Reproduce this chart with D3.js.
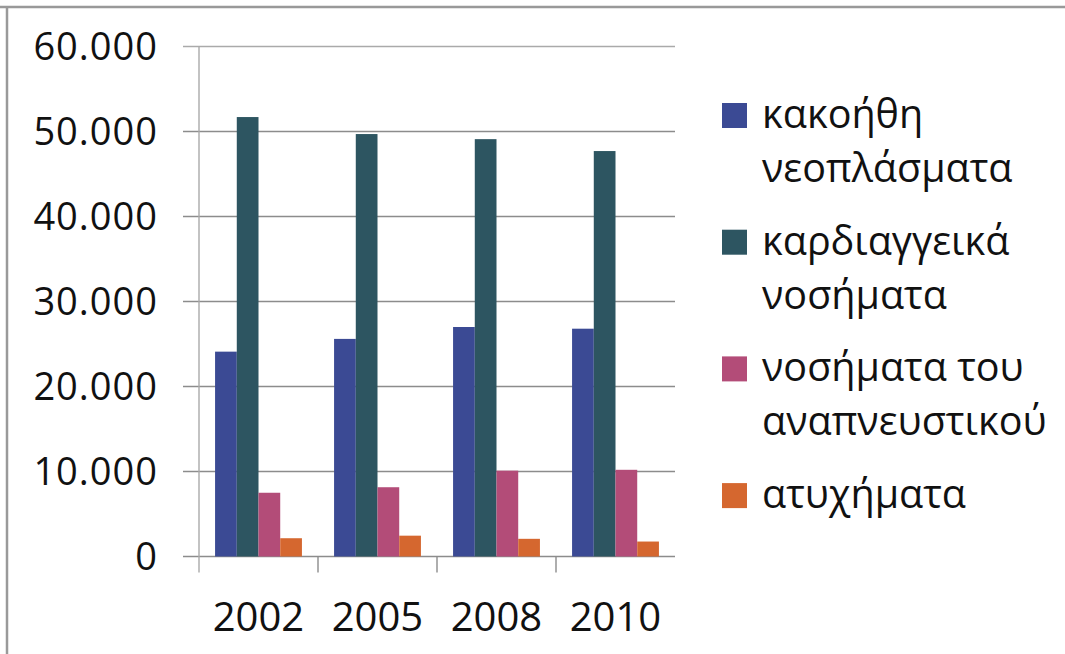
<!DOCTYPE html>
<html>
<head>
<meta charset="utf-8">
<script src="https://cdn.jsdelivr.net/npm/d3@7"></script>
<style>
    body { margin: 0; background: #fff; }
    svg { display: block; }
    .tickText { font-family: "Open Sans", sans-serif; fill: #111; }
    .legendText { font-family: "Open Sans", sans-serif; fill: #111; }
</style>
</head>
<body>
<div id="chart"></div>
<script>
// chart data
var years = ["2002", "2005", "2008", "2010"];
var seriesNames = ["κακοήθη νεοπλάσματα", "καρδιαγγεικά νοσήματα", "νοσήματα του αναπνευστικού", "ατυχήματα"];
var legendLines = [["κακοήθη", "νεοπλάσματα"], ["καρδιαγγεικά", "νοσήματα"], ["νοσήματα του", "αναπνευστικού"], ["ατυχήματα"]];
var neoplasms = [24100, 25600, 27000, 26800];
var cardio = [51700, 49700, 49100, 47700];
var respiratory = [7500, 8150, 10100, 10200];
var accidents = [2150, 2450, 2080, 1760];
var yTicks = [0, 10000, 20000, 30000, 40000, 50000, 60000];
var yTickLabels = ["0", "10.000", "20.000", "30.000", "40.000", "50.000", "60.000"];
var colors = ["#3b4a94", "#2d5561", "#b34c78", "#d5672f"];

var seriesValues = [neoplasms, cardio, respiratory, accidents];

var width = 1065, height = 654;

var svg = d3.select("#chart").append("svg")
    .attr("width", width)
    .attr("height", height);

// outer frame, only top and left edges are visible
svg.append("line")
    .attr("x1", 0).attr("x2", width)
    .attr("y1", 7).attr("y2", 7)
    .attr("stroke", "#999").attr("stroke-width", 2.5);
svg.append("line")
    .attr("x1", 7).attr("x2", 7)
    .attr("y1", 7).attr("y2", height)
    .attr("stroke", "#9a9a9a").attr("stroke-width", 2.5);

// scales
var x = d3.scaleBand()
    .domain(years)
    .range([199, 675])
    .paddingInner(0.27)
    .paddingOuter(0.135);

var xInner = d3.scaleBand()
    .domain(d3.range(seriesValues.length))
    .range([0, x.bandwidth()]);

var y = d3.scaleLinear()
    .domain([0, 60000])
    .range([556.5, 46.5]);

// horizontal grid lines, with a short tick left of the axis
svg.append("g").selectAll("line")
    .data(yTicks)
    .enter().append("line")
    .attr("x1", 183)
    .attr("x2", 675)
    .attr("y1", function(d) { return y(d); })
    .attr("y2", function(d) { return y(d); })
    .attr("stroke", function(d) { return d === 60000 ? "#aaa" : "#8c8c8c"; })
    .attr("stroke-width", 1.4);

// y tick labels
svg.append("g").selectAll("text")
    .data(yTicks)
    .enter().append("text")
    .attr("class", "tickText")
    .attr("x", 158)
    .attr("y", function(d) { return y(d) + 13; })
    .attr("text-anchor", "end")
    .style("font-size", "38px")
    .style("letter-spacing", "1px")
    .text(function(d, i) { return yTickLabels[i]; });

// vertical axis line
svg.append("line")
    .attr("x1", 199).attr("x2", 199)
    .attr("y1", y(60000)).attr("y2", y(0) + 16)
    .attr("stroke", "#aaa").attr("stroke-width", 1.4);

// category tick marks below the baseline
var step = x.step();
svg.append("g").selectAll("line")
    .data(years.slice(1))
    .enter().append("line")
    .attr("x1", function(d) { return x(d) - step * x.paddingInner() / 2; })
    .attr("x2", function(d) { return x(d) - step * x.paddingInner() / 2; })
    .attr("y1", y(0))
    .attr("y2", y(0) + 16)
    .attr("stroke", "#8c8c8c").attr("stroke-width", 1.4);

// bars, one group per year
var groups = svg.append("g").selectAll("g")
    .data(years)
    .enter().append("g")
    .attr("transform", function(d) { return "translate(" + x(d) + ",0)"; });

groups.selectAll("rect")
    .data(function(d, i) {
        return seriesValues.map(function(vals, s) { return {s: s, v: vals[i]}; });
    })
    .enter().append("rect")
    .attr("x", function(d) { return xInner(d.s); })
    .attr("width", xInner.bandwidth())
    .attr("y", function(d) { return y(d.v); })
    .attr("height", function(d) { return y(0) - y(d.v); })
    .attr("fill", function(d) { return colors[d.s]; });

// x labels
svg.append("g").selectAll("text")
    .data(years)
    .enter().append("text")
    .attr("class", "tickText")
    .attr("x", function(d) { return x(d) + x.bandwidth() / 2; })
    .attr("y", 630.5)
    .attr("text-anchor", "middle")
    .style("font-size", "40px")
    .text(function(d) { return d; });

// legend
var legend = svg.append("g").selectAll("g")
    .data(seriesNames)
    .enter().append("g")
    .attr("transform", function(d, i) { return "translate(722," + (128 + i * 126.7) + ")"; });

legend.append("rect")
    .attr("x", 0)
    .attr("y", -25)
    .attr("width", 25)
    .attr("height", 25)
    .attr("fill", function(d, i) { return colors[i]; });

legend.append("text")
    .attr("class", "legendText")
    .attr("x", 40)
    .attr("y", 0)
    .style("font-size", "39.5px")
    .selectAll("tspan")
    .data(function(d, i) { return legendLines[i]; })
    .enter().append("tspan")
    .attr("x", 40)
    .attr("dy", function(d, j) { return j === 0 ? 0 : 54; })
    .text(function(d) { return d; });
</script>
</body>
</html>
